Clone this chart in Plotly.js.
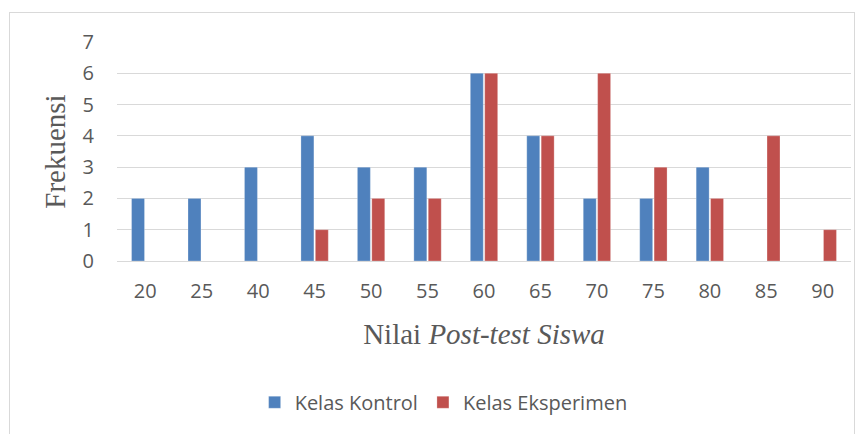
<!DOCTYPE html>
<html><head><meta charset="utf-8">
<script src="https://cdn.plot.ly/plotly-3.0.1.min.js"></script>
<style>
html,body{margin:0;padding:0;background:#fff;}
#frame{position:absolute;left:9px;top:12px;width:846px;height:430px;border:1px solid #d9d9d9;box-sizing:border-box;}
#chart{position:absolute;left:0;top:0;width:867px;height:434px;}
</style></head>
<body>
<div id="frame"></div>
<div id="chart"></div>
<script>
var categories = ['20','25','40','45','50','55','60','65','70','75','80','85','90'];
var kontrol = [2,2,3,4,3,3,6,4,2,2,3,0,0];
var eksperimen = [0,0,0,1,2,2,6,4,6,3,2,4,1];
var yTicks = [0,1,2,3,4,5,6,7];

var tickFont = {family:'Open Sans, sans-serif', size:20, color:'#595959'};
var serifFont = {family:'Liberation Serif, Times New Roman, serif', size:29, color:'#595959'};
var data = [
  {type:'bar', name:'Kelas Kontrol', x:categories, y:kontrol,
   marker:{color:'#4F81BD', line:{color:'rgba(255,255,255,0.5)', width:0.5}}},
  {type:'bar', name:'Kelas Eksperimen', x:categories, y:eksperimen,
   marker:{color:'#C0504D', line:{color:'rgba(255,255,255,0.5)', width:0.5}}}
];
var layout = {
  width:867, height:434,
  margin:{l:117, r:16, t:42, b:173},
  paper_bgcolor:'rgba(0,0,0,0)', plot_bgcolor:'rgba(0,0,0,0)',
  barmode:'group', bargap:0.49, bargroupgap:0.1,
  showlegend:true,
  legend:{orientation:'h', x:0.445, xanchor:'center', y:-0.645, yanchor:'middle',
    font:tickFont, itemwidth:30, traceorder:'normal'},
  xaxis:{type:'category', tickfont:tickFont, showgrid:false, zeroline:false,
    showline:false, ticks:'', ticklabelstandoff:16, automargin:false,
    title:{text:'Nilai <i>Post-test Siswa</i>', font:serifFont, standoff:20}},
  yaxis:{range:[0,7], tickvals:yTicks, tickfont:tickFont, showgrid:true, gridcolor:'#d9d9d9', gridwidth:1,
    zeroline:true, zerolinecolor:'#d9d9d9', zerolinewidth:1, showline:false, ticks:'', ticklabelstandoff:22, automargin:false,
    title:{text:'Frekuensi', font:serifFont, standoff:8}}
};
Plotly.newPlot('chart', data, layout, {displayModeBar:false, staticPlot:true});
</script>
</body></html>
